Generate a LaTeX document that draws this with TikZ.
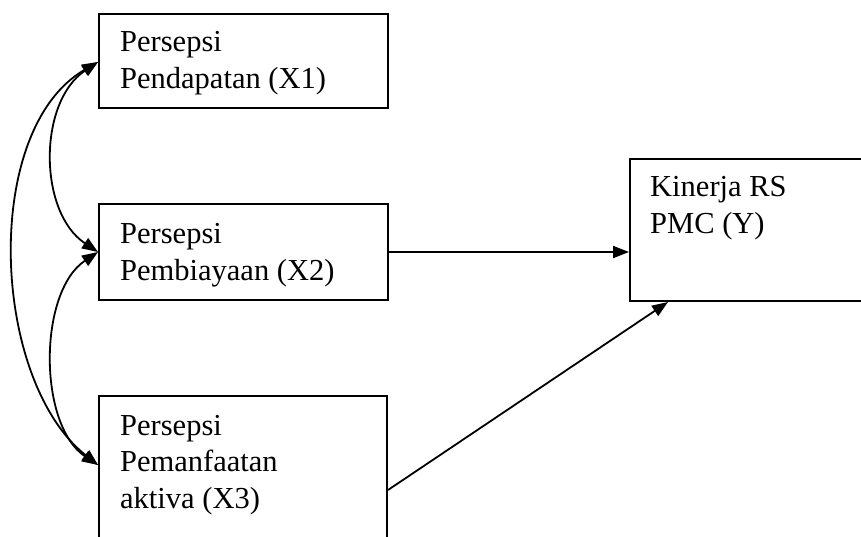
\documentclass[tikz,border=0pt]{standalone}
\usepackage{fontspec}
\setmainfont{Liberation Serif}
\usetikzlibrary{arrows.meta}

\begin{document}
\begin{tikzpicture}[x=1pt, y=-1pt,
  varbox/.style={draw=black, line width=2pt, rectangle, inner sep=0pt,
    anchor=north west},
  label/.style={anchor=base west, align=left, inner sep=0pt,
    font=\fontsize{30.5}{36.5}\selectfont},
  link/.style={line width=1.8pt, -{Triangle[length=16pt, width=12pt]}},
  corr/.style={line width=1.8pt,
    {Triangle[length=16pt, width=12pt]}-{Triangle[length=16pt, width=12pt]}}]

  \useasboundingbox (0,0) rectangle (861,536);
  \clip (0,0) rectangle (861,536);
  \fill[white] (0,0) rectangle (861,536);

  % variable boxes
  \node[varbox, minimum width=289pt, minimum height=94pt]  (x1) at (98,13)  {};
  \node[varbox, minimum width=289pt, minimum height=96pt]  (x2) at (98,203) {};
  \node[varbox, minimum width=288pt, minimum height=160pt] (x3) at (98,395) {};
  \node[varbox, minimum width=280pt, minimum height=142pt] (y)  at (629,158) {};

  % box texts (placed by the baseline of their last line)
  \node[label] (tx1) at (120,88)  {Persepsi\\Pendapatan (X1)};
  \node[label] (tx2) at (120,280) {Persepsi\\Pembiayaan (X2)};
  \node[label] (tx3) at (120,508) {Persepsi\\Pemanfaatan\\aktiva (X3)};
  \node[label] (ty)  at (650,233) {Kinerja RS\\PMC (Y)};

  % end points on the box edges
  \coordinate (a1) at ([yshift=-49pt]x1.north west);
  \coordinate (a2) at ([yshift=-49pt]x2.north west);
  \coordinate (a3) at ([yshift=-70pt]x3.north west);

  % correlations between the independent variables
  \draw[corr] (a1) .. controls +(-60,40) and +(-60,-40) .. (a2);
  \draw[corr] (a2) .. controls +(-60,40) and +(-60,-40) .. (a3);
  \draw[corr] (a1) .. controls +(-117,68) and +(-107,-85) .. (a3);

  % effects on performance
  \draw[link] ([yshift=-49pt]x2.north east) -- ([yshift=-49pt]x2.north east -| y.west);
  \draw[link] ([yshift=-95pt]x3.north east) -- ([xshift=39pt]y.south west);
\end{tikzpicture}
\end{document}
